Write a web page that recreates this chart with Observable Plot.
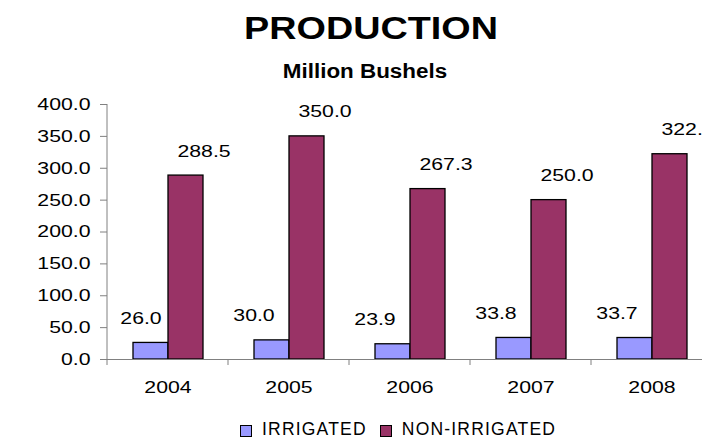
<!DOCTYPE html>
<html>
<head>
<meta charset="utf-8">
<script src="https://cdn.jsdelivr.net/npm/d3@7"></script>
<script src="https://cdn.jsdelivr.net/npm/@observablehq/plot@0.6"></script>
<style>
  body { margin: 0; background: white; }
  #wrap { position: relative; width: 702px; height: 439px; overflow: hidden; background: white;
          font-family: "Liberation Sans", Arial, sans-serif; color: black; }
  .title { position: absolute; top: 12px; left: 371px; font-size: 32px; line-height: 1; font-weight: bold;
           white-space: nowrap; transform: translateX(-50%) scaleX(1.18); }
  .sub { position: absolute; top: 61px; left: 365px; font-size: 20px; line-height: 1; font-weight: bold;
         white-space: nowrap; transform: translateX(-50%) scaleX(1.12); }
  #chart { position: absolute; top: 90px; left: 0; width: 702px; height: 310px; overflow: hidden; }
  #chart svg { max-width: none !important; width: 712px; height: 310px; }
  #legend { position: absolute; top: 421px; left: 240px; display: flex; align-items: flex-start;
            font-size: 17.5px; line-height: 1; white-space: nowrap; }
  #legend .sw { width: 12px; height: 12px; box-sizing: border-box; border: 1px solid black; margin-top: 4px; margin-right: 10px; }
  #legend .lab { letter-spacing: 1.2px; margin-right: 13px; }
</style>
</head>
<body>
<div id="wrap">
  <div class="title">PRODUCTION</div>
  <div class="sub">Million Bushels</div>
  <div id="chart"></div>
  <div id="legend"></div>
</div>
<script>
const years = ["2004", "2005", "2006", "2007", "2008"];
const series = ["IRRIGATED", "NON-IRRIGATED"];
const irrigated = [26.0, 30.0, 23.9, 33.8, 33.7];
const nonIrrigated = [288.5, 350.0, 267.3, 250.0, 322.0];
const colors = ["#9999FF", "#993366"];
const yTicks = [0, 50, 100, 150, 200, 250, 300, 350, 400];

const data = years.flatMap((yr, i) => [
  {year: yr, series: series[0], value: irrigated[i]},
  {year: yr, series: series[1], value: nonIrrigated[i]}
]);
const fmt = d3.format(".1f");
const font = "'Liberation Sans', Arial, sans-serif";

const chart = Plot.plot({
  width: 712,
  height: 310,
  marginLeft: 107,
  marginRight: 0,
  marginTop: 14,
  marginBottom: 41,
  style: {fontFamily: font, fontSize: "17px", color: "black", background: "white", overflow: "visible", maxWidth: "none"},
  fx: {domain: years, padding: 0, label: null, axis: null},
  x: {domain: series, paddingInner: 0, paddingOuter: 0.72, axis: null},
  y: {domain: [0, 400], label: null},
  color: {domain: series, range: colors},
  marks: [
    Plot.axisY({ticks: yTicks, tickFormat: fmt, tickSize: 7, tickPadding: 10, stroke: "#808080", fill: "black", fontSize: 17, label: null}),
    Plot.axisFx({anchor: "bottom", tickSize: 0, tickPadding: 21, fill: "black", fontSize: 17, label: null}),
    Plot.barY(data, {fx: "year", x: "series", y: "value", fill: "series", stroke: "black", strokeWidth: 1.3}),
    Plot.ruleY([0], {stroke: "#808080", strokeWidth: 1}),
    Plot.text(data.filter(d => d.series === series[0] && d.year === years[0]), {fx: "year", x: "series", y: "value", text: d => fmt(d.value), dx: -10, dy: -19, lineAnchor: "bottom", fontSize: 17, fill: "black"}),
    Plot.text(data.filter(d => d.series === series[0] && d.year !== years[0]), {fx: "year", x: "series", y: "value", text: d => fmt(d.value), dx: -18, dy: -19, lineAnchor: "bottom", fontSize: 17, fill: "black"}),
    Plot.text(data.filter(d => d.series === series[1]), {fx: "year", x: "series", y: "value", text: d => fmt(d.value), dx: 18, dy: -19, lineAnchor: "bottom", fontSize: 17, fill: "black"})
  ]
});

document.getElementById("chart").append(chart);

// axis line and category-boundary ticks from the library's scales
const fxs = chart.scale("fx"), ys = chart.scale("y");
const svg = d3.select(chart);
const y0 = ys.apply(0), yTop = ys.apply(400);
const xLeft = fxs.apply(years[0]);
svg.append("line").attr("x1", xLeft).attr("x2", xLeft).attr("y1", yTop).attr("y2", y0)
  .attr("stroke", "#808080").attr("stroke-width", 1);
const bounds = years.map(yr => fxs.apply(yr)).concat([fxs.apply(years[years.length - 1]) + fxs.bandwidth]);
svg.append("g").selectAll("line").data(bounds).join("line")
  .attr("x1", d => d).attr("x2", d => d).attr("y1", y0).attr("y2", y0 + 6)
  .attr("stroke", "#808080").attr("stroke-width", 1);

// horizontally stretched text as in the reference
svg.selectAll("text").each(function() {
  const L = this.getComputedTextLength();
  if (L > 0) {
    this.setAttribute("textLength", L * 1.25);
    this.setAttribute("lengthAdjust", "spacingAndGlyphs");
  }
});

// legend
const legend = d3.select("#legend");
series.forEach((s, i) => {
  legend.append("div").attr("class", "sw").style("background", colors[i]);
  legend.append("span").attr("class", "lab").text(s);
});
</script>
</body>
</html>
